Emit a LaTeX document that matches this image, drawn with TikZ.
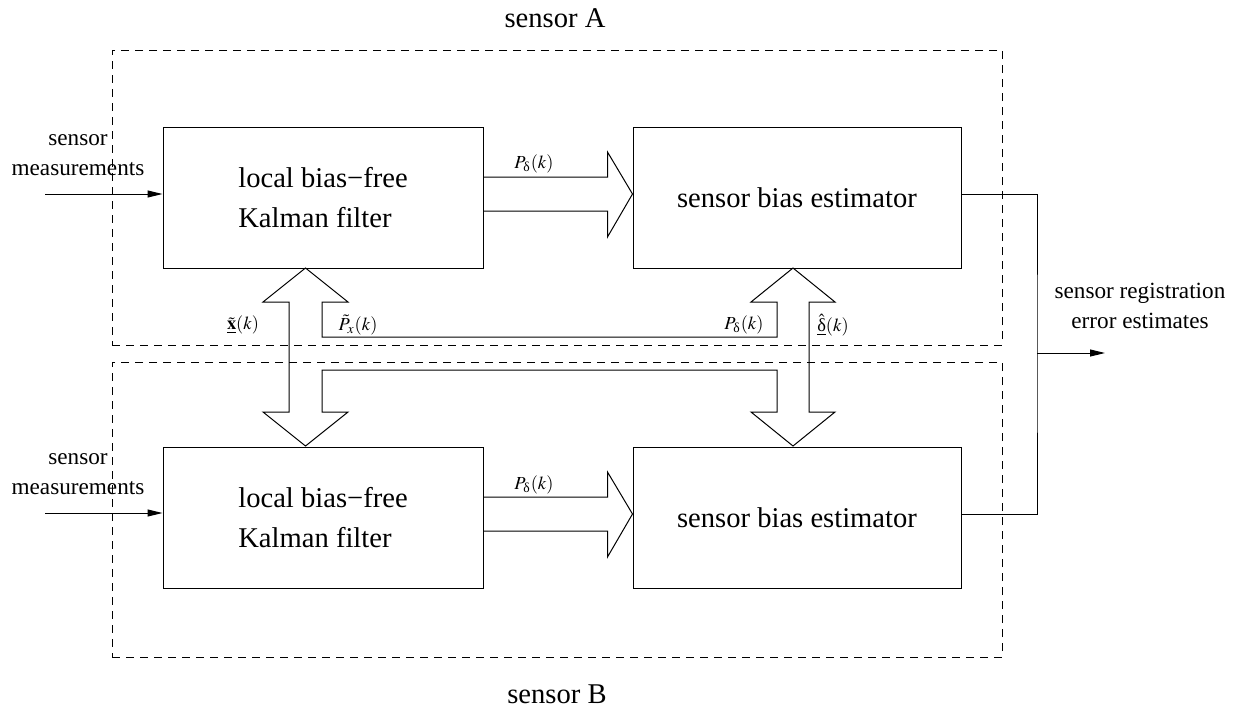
\documentclass[tikz,border=0pt]{standalone}
\usepackage{amsmath}
\usepackage{mathptmx}
\usepackage{fontspec}
\setmainfont{Liberation Serif}
\usetikzlibrary{arrows.meta, positioning, fit, calc}

\newcommand{\blockfont}{\fontsize{14.3}{20}\selectfont}
\newcommand{\notefont}{\fontsize{11.6}{15}\selectfont}
\newcommand{\labfont}{\fontsize{9.2}{11}\selectfont}
\newcommand{\updelta}{\text{δ}}

\begin{document}
\begin{tikzpicture}[
    x=0.5pt, y=-0.5pt,
    node distance=74.5pt,
    block/.style={rectangle, draw, line width=0.5pt, minimum width=160pt, minimum height=70.5pt, align=left, font=\blockfont},
    estimator/.style={block, minimum width=164pt},
    group/.style={draw, dash pattern=on 4pt off 3pt, line width=0.5pt, inner sep=0pt},
    hollow/.style={line width=0.5pt, line join=miter},
    arrow/.style={line width=0.5pt, -{Triangle[length=7.5pt,width=3.5pt]}},
    note/.style={align=center, font=\notefont},
    sig/.style={inner sep=0pt, font=\labfont},
]
    \useasboundingbox (0,0) rectangle (1238,713);

    % sensor groups
    \node (sensA) [group, fit={(112,50) (1002,345)}] {};
    \node (sensB) [group, fit={(112,362) (1002,657)}] {};
    \node (nameA) [font=\blockfont] at (555,18) {sensor A};
    \node (nameB) [font=\blockfont] at (557,694) {sensor B};

    % filters and estimators
    \node (kfA) [block] at (323,197.5) {local bias−free\\Kalman filter};
    \node (beA) [estimator, right=of kfA] {sensor bias estimator};
    \node (kfB) [block, below=89pt of kfA] {local bias−free\\Kalman filter};
    \node (beB) [estimator, right=of kfB] {sensor bias estimator};

    % measurements in
    \coordinate (inA) at (45,194);
    \coordinate (inB) at (45,513);
    \node (measA) [note] at (78,155) {sensor\\measurements};
    \node (measB) [note] at (78,474) {sensor\\measurements};
    \draw [arrow] (inA) -- (inA -| kfA.west);
    \draw [arrow] (inB) -- (inB -| kfB.west);

    % wide arrows filter -> estimator
    \draw [hollow] ($(kfA.east)+(0,-20.5)$) -- ++(124,0) -- ++(0,-25) -- ++(25,42) -- ++(-25,43) -- ++(0,-26) -- ++(-124,0);
    \draw [hollow] ($(kfB.east)+(0,-20.5)$) -- ++(124,0) -- ++(0,-25) -- ++(25,42) -- ++(-25,43) -- ++(0,-26) -- ++(-124,0);
    \node (pdA) [sig] at (534,164) {$P_{\updelta}(k)$};
    \node (pdB) [sig] at (534,485) {$P_{\updelta}(k)$};

    % exchange between the sensors
    \draw [hollow] (289,302) -- (263,302) -- (305.5,268) -- (348,302) -- (322,302) -- (322,337)
        -- (777,337) -- (777,302) -- (751,302) -- (793,268) -- (835,302) -- (809,302)
        -- (809,412) -- (835,412) -- (793,446) -- (751,412) -- (777,412) -- (777,370)
        -- (322,370) -- (322,412) -- (348,412) -- (305.5,446) -- (263,412) -- (289,412) -- cycle;
    \node (xk) [sig] at (243,325) {$\tilde{\underline{\mathbf{x}}}(k)$};
    \node (px) [sig] at (358,325) {$\tilde{P}_x(k)$};
    \node (pd) [sig] at (744,325) {$P_{\updelta}(k)$};
    \node (dk) [sig] at (833,325) {$\hat{\underline{\updelta}}(k)$};

    % registration error out
    \coordinate (merge) at (1037,353);
    \coordinate (out) at (1105,353);
    \draw [line width=0.5pt] ($(beA.east)+(0,-3.5)$) -| (merge) |- ($(beB.east)+(0,-3.5)$);
    \draw [arrow] (merge) -- (out);
    \node (regerr) [note] at (1140,306) {sensor registration\\error estimates};

\end{tikzpicture}
\end{document}
